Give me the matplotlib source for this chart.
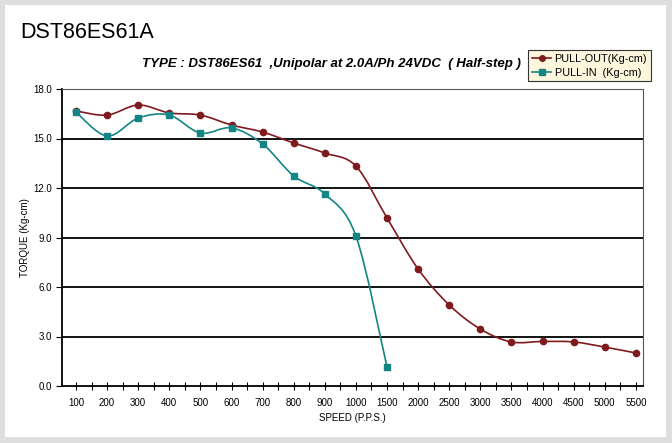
import matplotlib
matplotlib.use('Agg')
import matplotlib.pyplot as plt
from matplotlib.path import Path
from matplotlib.patches import PathPatch
from matplotlib.lines import Line2D
import numpy as np

plt.rcParams['font.family'] = ['Liberation Sans', 'DejaVu Sans']

speeds = ['100', '200', '300', '400', '500', '600', '700', '800', '900', '1000',
          '1500', '2000', '2500', '3000', '3500', '4000', '4500', '5000', '5500']
pull_out = [16.67, 16.42, 17.03, 16.55, 16.42, 15.82, 15.39, 14.73, 14.12, 13.33,
            10.18, 7.09, 4.91, 3.45, 2.67, 2.70, 2.67, 2.36, 2.0]
pull_in = [16.6, 15.15, 16.24, 16.42, 15.33, 15.64, 14.67, 12.73, 11.64, 9.09, 1.15]

red = '#7f1a1f'
teal = '#138584'


def smooth_path(x, y):
    # Catmull-Rom style smoothing like spreadsheet "smoothed line"
    pts = np.column_stack([x, y]).astype(float)
    n = len(pts)
    verts = [pts[0]]
    codes = [Path.MOVETO]
    for i in range(n - 1):
        p0 = pts[i - 1] if i > 0 else pts[i]
        p1 = pts[i]
        p2 = pts[i + 1]
        p3 = pts[i + 2] if i + 2 < n else pts[i + 1]
        c1 = p1 + (p2 - p0) / 6.0
        c2 = p2 - (p3 - p1) / 6.0
        verts += [c1, c2, p2]
        codes += [Path.CURVE4] * 3
    return Path(verts, codes)


fig = plt.figure(figsize=(6.72, 4.43), dpi=100)
fig.patch.set_facecolor('#dedede')

# white panel behind everything
bg = fig.add_axes([5 / 672, 6 / 443, 661 / 672, 432 / 443], zorder=-1)
bg.set_facecolor('white')
bg.set_xticks([])
bg.set_yticks([])
for s in bg.spines.values():
    s.set_visible(False)

ax = fig.add_axes([62 / 672, 1 - 386 / 443, 581 / 672, 297 / 443])
ax.patch.set_alpha(0)
xi = np.arange(len(speeds))

ax.set_xlim(-0.45, len(speeds) - 1 + 0.23)
ax.set_ylim(0, 18)

for yv in [3, 6, 9, 12, 15, 18]:
    ax.axhline(yv, color='black', lw=1.3, zorder=1)

ax.add_patch(PathPatch(smooth_path(xi, pull_out), facecolor='none', edgecolor=red, lw=1.2, zorder=3))
ax.plot(xi, pull_out, ls='none', marker='o', ms=4.5, color=red, zorder=4)

xin = xi[:len(pull_in)]
ax.add_patch(PathPatch(smooth_path(xin, pull_in), facecolor='none', edgecolor=teal, lw=1.2, zorder=3))
ax.plot(xin, pull_in, ls='none', marker='s', ms=4.5, color=teal, zorder=4)

ax.set_xticks(xi)
ax.set_xticklabels(speeds, fontsize=7)
ax.set_xticks(xi[:-1] + 0.5, minor=True)
ax.tick_params(axis='x', which='both', direction='inout', length=6, width=0.8, pad=6)
ax.set_yticks([0, 3, 6, 9, 12, 15, 18])
ax.set_yticklabels(['0.0', '3.0', '6.0', '9.0', '12.0', '15.0', '18.0'], fontsize=7)
ax.tick_params(axis='y', direction='out', length=4, width=0.8)

for s in ['left', 'bottom']:
    ax.spines[s].set_color('black')
    ax.spines[s].set_linewidth(1.3)
for s in ['top', 'right']:
    ax.spines[s].set_color('#555555')
    ax.spines[s].set_linewidth(0.8)

ax.set_xlabel('SPEED (P.P.S.)', fontsize=7, labelpad=3)
ax.set_ylabel('TORQUE (Kg-cm)', fontsize=7, labelpad=2)

fig.text(20 / 672, 1 - 32 / 443, 'DST86ES61A', fontsize=15.5, va='center', ha='left')
fig.text(331 / 672, 1 - 64 / 443, 'TYPE : DST86ES61  ,Unipolar at 2.0A/Ph 24VDC  ( Half-step )',
         fontsize=9.5, fontweight='bold', fontstyle='italic', ha='center', va='center')

handles = [Line2D([], [], color=red, marker='o', ms=4, lw=1.2),
           Line2D([], [], color=teal, marker='s', ms=4, lw=1.2)]
leg = fig.legend(handles, ['PULL-OUT(Kg-cm)', 'PULL-IN  (Kg-cm)'],
                 loc='upper left', bbox_to_anchor=(528 / 672, 1 - 50 / 443),
                 fontsize=7.8, frameon=True, fancybox=False, handlelength=1.8,
                 handletextpad=0.3, borderpad=0.35, labelspacing=0.35,
                 borderaxespad=0)
leg.get_frame().set_facecolor('#fbf6dc')
leg.get_frame().set_edgecolor('#333333')
leg.get_frame().set_linewidth(0.8)
leg.get_frame().set_alpha(1)

fig.savefig('out.png', dpi=100)
